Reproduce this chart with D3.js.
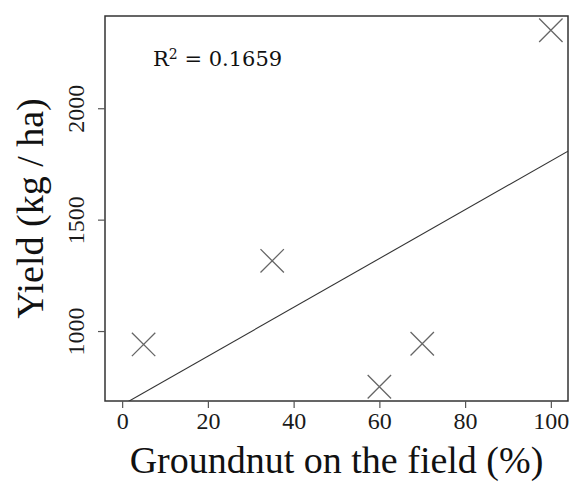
<!DOCTYPE html>
<html>
<head>
<meta charset="utf-8">
<script src="https://cdn.jsdelivr.net/npm/d3@7"></script>
<style>
  body { margin: 0; background: #fff; }
  svg { display: block; }
</style>
</head>
<body>
<svg id="chart" width="574" height="484"></svg>
<script>
// Groundnut share of the field vs yield
var groundnut = [5, 35, 60, 70, 100];
var yieldKg = [940, 1315, 750, 943, 2350];
var xTicks = [0, 20, 40, 60, 80, 100];
var yTicks = [1000, 1500, 2000];
var r2Text = "0.1659";

var W = 574, H = 484;
var LEFT = 105, RIGHT = 568, TOP = 16, BOTTOM = 401;

var svg = d3.select("#chart");

// R style 4% padding on the y range, x fixed to 0..100
var ext = d3.extent(yieldKg);
var pad = (ext[1] - ext[0]) * 0.04;
var x = d3.scaleLinear().domain([-4, 104]).range([LEFT, RIGHT]);
var y = d3.scaleLinear().domain([ext[0] - pad, ext[1] + pad]).range([BOTTOM, TOP]);

// least squares fit
var mx = d3.mean(groundnut), my = d3.mean(yieldKg);
var sxy = 0, sxx = 0;
for (var i = 0; i < groundnut.length; i++) {
	sxy += (groundnut[i] - mx) * (yieldKg[i] - my);
	sxx += (groundnut[i] - mx) * (groundnut[i] - mx);
}
var slope = sxy / sxx;
var intercept = my - slope * mx;

svg.append("clipPath").attr("id", "plotclip")
	.append("rect")
	.attr("x", LEFT).attr("y", TOP)
	.attr("width", RIGHT - LEFT).attr("height", BOTTOM - TOP);

// fitted line
var xd = x.domain();
svg.append("line")
	.attr("clip-path", "url(#plotclip)")
	.attr("x1", x(xd[0])).attr("y1", y(intercept + slope * xd[0]))
	.attr("x2", x(xd[1])).attr("y2", y(intercept + slope * xd[1]))
	.attr("stroke", "#333")
	.attr("stroke-width", 1.1);

// crosses
var S = 11.7;
var pts = svg.append("g").selectAll("g")
	.data(groundnut)
	.enter().append("g")
	.attr("transform", function(d, i) { return "translate(" + x(d) + "," + y(yieldKg[i]) + ")"; });
pts.append("path")
	.attr("d", "M" + (-S) + "," + (-S) + "L" + S + "," + S + "M" + (-S) + "," + S + "L" + S + "," + (-S))
	.attr("stroke", "#666")
	.attr("stroke-width", 1.3)
	.attr("fill", "none");

// plot box
svg.append("rect")
	.attr("x", LEFT).attr("y", TOP)
	.attr("width", RIGHT - LEFT).attr("height", BOTTOM - TOP)
	.attr("fill", "none")
	.attr("stroke", "#333")
	.attr("stroke-width", 1.5);

// x axis
var gx = svg.append("g")
	.attr("transform", "translate(0," + BOTTOM + ")")
	.call(d3.axisBottom(x).tickValues(xTicks).tickFormat(d3.format("d")).tickSize(7).tickSizeOuter(0));
gx.select(".domain").remove();
gx.selectAll(".tick line").attr("stroke", "#555").attr("stroke-width", 1.2);
gx.selectAll(".tick text")
	.attr("y", 28).attr("dy", null)
	.attr("fill", "#1a1a1a")
	.style("font-family", "'Liberation Serif', serif")
	.style("font-size", "24px");

// y axis, labels parallel to the axis
var gy = svg.append("g")
	.attr("transform", "translate(" + LEFT + ",0)")
	.call(d3.axisLeft(y).tickValues(yTicks).tickFormat(d3.format("d")).tickSize(7).tickSizeOuter(0));
gy.select(".domain").remove();
gy.selectAll(".tick line").attr("stroke", "#555").attr("stroke-width", 1.2);
gy.selectAll(".tick text")
	.attr("transform", "rotate(-90)")
	.attr("x", 0).attr("y", -21).attr("dy", null)
	.attr("text-anchor", "middle")
	.attr("fill", "#1a1a1a")
	.style("font-family", "'Liberation Serif', serif")
	.style("font-size", "24px");

// axis titles
svg.append("text")
	.attr("x", (LEFT + RIGHT) / 2).attr("y", 473)
	.attr("text-anchor", "middle")
	.attr("fill", "#111")
	.style("font-family", "'Liberation Serif', serif")
	.style("font-size", "38px")
	.text("Groundnut on the field (%)");

svg.append("text")
	.attr("transform", "translate(43," + ((TOP + BOTTOM) / 2) + ") rotate(-90)")
	.attr("text-anchor", "middle")
	.attr("fill", "#111")
	.style("font-family", "'Liberation Serif', serif")
	.style("font-size", "38px")
	.text("Yield (kg / ha)");

// R squared note
var note = svg.append("text")
	.attr("x", 153).attr("y", 66)
	.attr("fill", "#111")
	.style("font-family", "'DejaVu Serif', serif")
	.style("font-size", "21px");
note.append("tspan").text("R");
note.append("tspan").attr("dy", -7).style("font-size", "14px").text("2");
note.append("tspan").attr("dy", 7).text(" = " + r2Text);
</script>
</body>
</html>
